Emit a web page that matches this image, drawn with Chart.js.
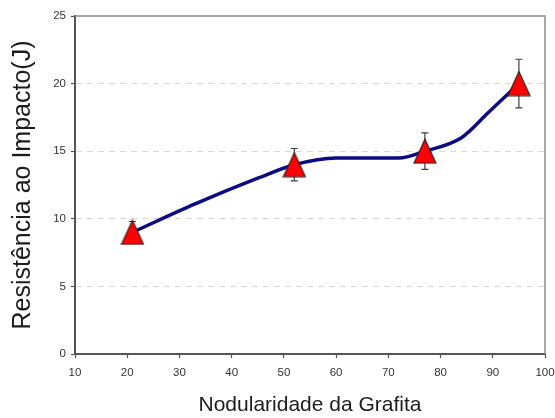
<!DOCTYPE html>
<html>
<head>
<meta charset="utf-8">
<script src="https://cdn.jsdelivr.net/npm/chart.js@4/dist/chart.umd.min.js"></script>
<style>
  html, body { margin: 0; padding: 0; background: #ffffff; }
  #wrap { width: 555px; height: 418px; }
</style>
</head>
<body>
<div id="wrap"><canvas id="c" width="555" height="418"></canvas></div>
<script>
// Measured samples: graphite nodularity (%) vs. impact resistance (J)
const nodularity = [21, 52, 77, 95];
const impact = [9, 14, 15, 20];
const impactError = [0.8, 1.2, 1.35, 1.8];

// Smoothed trend curve
const curveX = [21, 33, 45, 52, 60, 72, 77, 84, 89, 95];
const curveY = [9, 11.1, 13, 14, 14.5, 14.5, 15, 16, 17.8, 20];

// Axis ticks
const xTicks = [10, 20, 30, 40, 50, 60, 70, 80, 90, 100];
const yTicks = [0, 5, 10, 15, 20, 25];

const FONT = "'Liberation Sans', Arial, Helvetica, sans-serif";

// Red triangle marker
function triangleMarker() {
  const w = 24, h = 26;
  const cv = document.createElement('canvas');
  cv.width = w; cv.height = h;
  const g = cv.getContext('2d');
  g.beginPath();
  g.moveTo(w / 2, 1);
  g.lineTo(w - 1, h - 1);
  g.lineTo(1, h - 1);
  g.closePath();
  g.fillStyle = '#ff0000';
  g.fill();
  g.lineWidth = 1.2;
  g.strokeStyle = '#3a2020';
  g.stroke();
  return cv;
}

// Error bars, drawn just before the markers
const errorBars = {
  id: 'errorBars',
  beforeDatasetDraw(chart, args) {
    if (args.index !== 0) return;
    const { ctx, scales: { x, y } } = chart;
    ctx.save();
    ctx.strokeStyle = '#404040';
    ctx.lineWidth = 1.2;
    nodularity.forEach((v, i) => {
      const px = x.getPixelForValue(v);
      const top = y.getPixelForValue(impact[i] + impactError[i]);
      const bot = y.getPixelForValue(impact[i] - impactError[i]);
      ctx.beginPath();
      ctx.moveTo(px, top); ctx.lineTo(px, bot);
      ctx.moveTo(px - 3.5, top); ctx.lineTo(px + 3.5, top);
      ctx.moveTo(px - 3.5, bot); ctx.lineTo(px + 3.5, bot);
      ctx.stroke();
    });
    ctx.restore();
  }
};

// Top and right edges of the plot frame
const frame = {
  id: 'frame',
  beforeDatasetsDraw(chart) {
    const { ctx, chartArea: a } = chart;
    ctx.save();
    ctx.strokeStyle = '#8c8c8c';
    ctx.lineWidth = 1.5;
    ctx.beginPath();
    ctx.moveTo(a.left, a.top);
    ctx.lineTo(a.right, a.top);
    ctx.lineTo(a.right, a.bottom);
    ctx.stroke();
    ctx.restore();
  }
};

new Chart(document.getElementById('c'), {
  type: 'scatter',
  data: {
    datasets: [
      {
        label: 'Resistência ao Impacto',
        data: nodularity.map((v, i) => ({ x: v, y: impact[i] })),
        pointStyle: triangleMarker(),
        pointRadius: 12,
        showLine: false,
        clip: false
      },
      {
        label: 'Tendência',
        data: curveX.map((v, i) => ({ x: v, y: curveY[i] })),
        showLine: true,
        borderColor: '#0c0c82',
        borderWidth: 3.5,
        pointRadius: 0,
        cubicInterpolationMode: 'monotone',
        borderCapStyle: 'round',
        borderJoinStyle: 'round',
        fill: false
      }
    ]
  },
  options: {
    responsive: false,
    animation: false,
    devicePixelRatio: 1,
    layout: { autoPadding: false, padding: { top: 16, right: 10, left: 0, bottom: 0 } },
    plugins: {
      legend: { display: false },
      tooltip: { enabled: false }
    },
    scales: {
      x: {
        type: 'linear',
        min: 10,
        max: 100,
        afterBuildTicks(scale) { scale.ticks = xTicks.map(v => ({ value: v })); },
        afterFit(scale) {
          scale.height = 64;
          scale.paddingLeft = 0;
          scale.paddingRight = 0;
        },
        grid: {
          drawOnChartArea: false,
          drawTicks: true,
          tickLength: 4,
          tickColor: '#555555',
          tickWidth: 1.2,
          color: '#555555'
        },
        border: { display: true, color: '#555555', width: 2 },
        ticks: {
          padding: 8,
          color: '#333333',
          font: { family: FONT, size: 11.5 }
        },
        title: {
          display: true,
          text: 'Nodularidade da Grafita',
          color: '#1c1c1c',
          font: { family: FONT, size: 21 },
          padding: { top: 0, bottom: 0 }
        }
      },
      y: {
        type: 'linear',
        min: 0,
        max: 25,
        afterBuildTicks(scale) { scale.ticks = yTicks.map(v => ({ value: v })); },
        afterFit(scale) {
          scale.width = 75;
          scale.paddingTop = 0;
          scale.paddingBottom = 0;
        },
        grid: {
          drawOnChartArea: true,
          drawTicks: true,
          tickLength: 4,
          tickColor: '#555555',
          tickWidth: 1.2,
          tickBorderDash: [],
          lineWidth: 1,
          color: (ctx) => (ctx.tick && (ctx.tick.value === 0 || ctx.tick.value === 25)) ? 'rgba(0,0,0,0)' : '#d9d9d9'
        },
        border: { display: true, color: '#555555', width: 2, dash: [6, 5] },
        ticks: {
          padding: 5,
          color: '#333333',
          font: { family: FONT, size: 11.5 }
        },
        title: {
          display: true,
          text: 'Resistência ao Impacto(J)',
          color: '#1c1c1c',
          font: { family: FONT, size: 25 },
          padding: { top: 8, bottom: 0 }
        }
      }
    }
  },
  plugins: [errorBars, frame]
});
</script>
</body>
</html>
